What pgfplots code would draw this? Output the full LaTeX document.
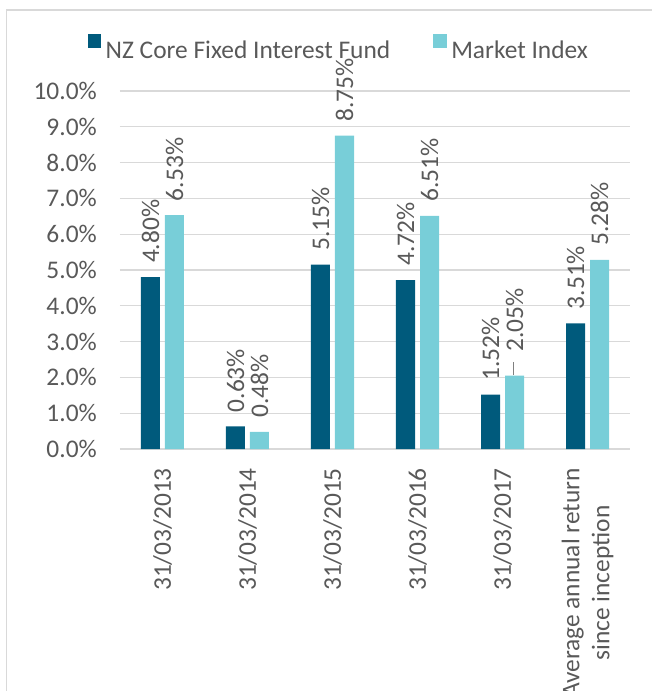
\documentclass[border=0pt]{standalone}
\usepackage{fontspec}
\setmainfont{Carlito}
\usepackage{pgfplots}
\usepackage{pgfplotstable}
\pgfplotsset{compat=1.18}
\definecolor{darkbar}{RGB}{0,90,124}
\definecolor{lightbar}{RGB}{120,206,216}
\definecolor{gridgray}{RGB}{217,217,217}
\definecolor{textgray}{RGB}{89,89,89}

\pgfplotstableread{
x dark light off
0 4.80 6.53 0
1 0.63 0.48 0
2 5.15 8.75 0
3 4.72 6.51 0
4 1.52 2.05 10
5 3.51 5.28 0
}\datatable

\begin{document}
\begin{tikzpicture}[font=\fontsize{25.4bp}{30bp}\selectfont]
\path[use as bounding box] (-120bp,-242bp) rectangle (532bp,449bp);
\draw[gridgray, line width=1.6bp] (-113.5bp,-260bp) -- (-113.5bp,439bp) -- (560bp,439bp);
\begin{axis}[
  at={(0,0)}, anchor=south west,
  scale only axis, width=510bp, height=358bp,
  xmin=-0.5, xmax=5.5, ymin=0, ymax=10,
  enlargelimits=false, clip=false,
  ybar, bar width=19bp,
  /pgf/number format/assume math mode=true,
  xtick={0,...,5},
  xticklabels={31/03/2013,31/03/2014,31/03/2015,31/03/2016,31/03/2017,{Average annual return\\since inception}},
  xticklabel style={rotate=90, anchor=east, align=center, inner sep=0pt, xshift=-19bp, text=textgray},
  ytick={0,1,...,10},
  yticklabel={\pgfmathprintnumber[fixed,fixed zerofill,precision=1]{\tick}\%},
  yticklabel style={anchor=east, inner sep=0pt, xshift=-23bp, text=textgray},
  ymajorgrids, major grid style={gridgray, line width=1.3bp},
  axis x line*=bottom, axis y line*=left,
  x axis line style={gridgray, line width=1.3bp, -},
  y axis line style={draw=none},
  major tick length=0pt, tick style={draw=none},
  legend style={at={(axis description cs:-0.0637,1.1229)}, anchor=west, draw=none, fill=none,
    inner sep=0pt, legend columns=-1, legend cell align=left,
    nodes={inner sep=0pt, text=textgray},
    /tikz/every odd column/.append style={column sep=4.5bp},
    /tikz/every even column/.append style={column sep=43bp}},
  legend image code/.code={\fill[#1] (0bp,2.5bp) rectangle (13.5bp,16bp);},
  nodes near coords={\pgfmathprintnumber[fixed,fixed zerofill,precision=2]{\pgfplotspointmeta}\%},
  every node near coord/.append style={rotate=90, anchor=west, inner sep=0pt, xshift=14bp, text=textgray},
]
\addplot[fill=darkbar, draw=none, bar shift=-12bp] table[x=x,y=dark]{\datatable};
\addlegendentry{NZ Core Fixed Interest Fund}
\addplot[fill=lightbar, draw=none, bar shift=12bp,
  visualization depends on={\thisrow{off}\as\myoff},
  every node near coord/.append style={xshift=\myoff bp}] table[x=x,y=light]{\datatable};
\addlegendentry{Market Index}
\draw[gray, line width=0.8bp] (axis cs:4.125,2.08) -- (axis cs:4.125,2.42);
\end{axis}
\end{tikzpicture}
\end{document}
